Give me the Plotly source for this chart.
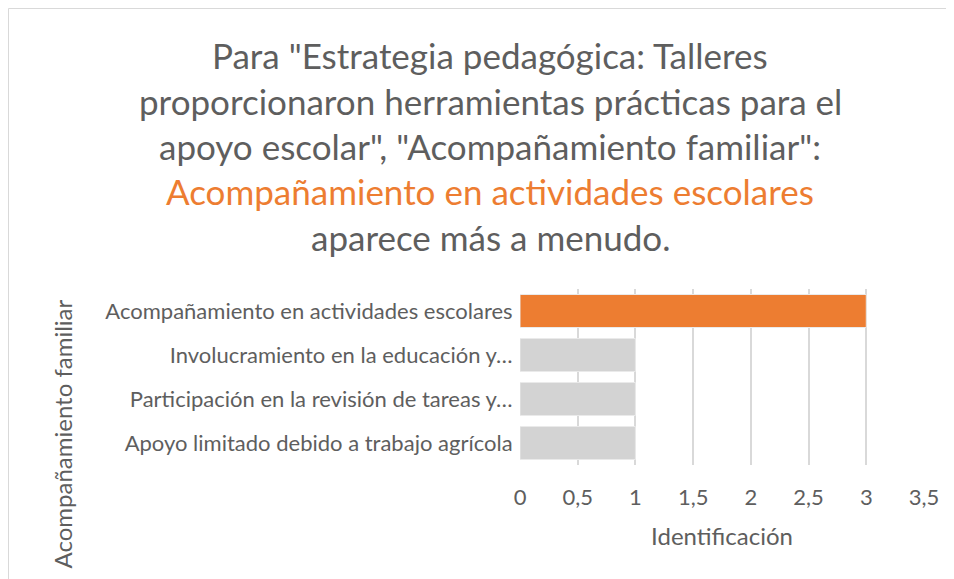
import plotly.graph_objects as go

categories = [
    "Acompañamiento en actividades escolares",
    "Involucramiento en la educación y…",
    "Participación en la revisión de tareas y…",
    "Apoyo limitado debido a trabajo agrícola",
]
values = [3, 1, 1, 1]
bar_colors = ["#ED7D31", "#D3D3D3", "#D3D3D3", "#D3D3D3"]
x_ticks = [0, 0.5, 1, 1.5, 2, 2.5, 3, 3.5]
x_tick_labels = ["0", "0,5", "1", "1,5", "2", "2,5", "3", "3,5"]

title_lines = [
    ('Para "Estrategia pedagógica: Talleres', "#595959"),
    ("proporcionaron herramientas prácticas para el", "#595959"),
    ('apoyo escolar", "Acompañamiento familiar":', "#595959"),
    ("Acompañamiento en actividades escolares", "#ED7D31"),
    ("aparece más a menudo.", "#595959"),
]

FONT = "Lato"
TXT = "#5E5E5E"
OFF = 8  # page body margin
W, H = 954 - OFF, 579 - OFF
L = 520 - OFF
T = 289 - OFF
R = W - (924 - OFF)
B = H - (465 - OFF)
pw = W - L - R
ph = H - T - B


def px_x(px):
    return (px - OFF - L) / pw


def px_y(py):
    return (H - B - (py - OFF)) / ph


fig = go.Figure(
    go.Bar(
        x=values,
        y=categories,
        orientation="h",
        marker=dict(color=bar_colors, line=dict(color="#EAEAEA", width=1)),
        width=0.75,
    )
)

annotations = []
line_y = [55, 101, 146, 191, 237]
for (txt, col), py in zip(title_lines, line_y):
    annotations.append(
        dict(
            text=txt, x=px_x(490), y=px_y(py), xref="paper", yref="paper",
            xanchor="center", yanchor="middle", showarrow=False,
            font=dict(family=FONT, size=35, color=col if col != "#595959" else TXT),
        )
    )
annotations.append(
    dict(
        text="Acompañamiento familiar", x=px_x(62), y=px_y(298), xref="paper", yref="paper",
        xanchor="center", yanchor="top", showarrow=False, textangle=-90,
        font=dict(family=FONT, size=24, color=TXT),
    )
)

shapes = [
    dict(type="line", xref="paper", yref="paper", x0=px_x(8.5), x1=px_x(970), y0=px_y(8.5), y1=px_y(8.5),
         line=dict(color="#D9D9D9", width=1)),
    dict(type="line", xref="paper", yref="paper", x0=px_x(8.5), x1=px_x(8.5), y0=px_y(8.5), y1=px_y(600),
         line=dict(color="#D9D9D9", width=1)),
]

fig.update_layout(
    width=W, height=H,
    margin=dict(l=L, r=R, t=T, b=B),
    paper_bgcolor="white", plot_bgcolor="white",
    showlegend=False,
    annotations=annotations,
    shapes=shapes,
    font=dict(family=FONT, color=TXT),
)
fig.update_xaxes(
    range=[0, 3.5], tickvals=x_ticks, ticktext=x_tick_labels,
    showgrid=True, gridcolor="#D9D9D9", gridwidth=1.5, zeroline=False,
    ticks="outside", ticklen=13, tickcolor="rgba(0,0,0,0)",
    tickfont=dict(family=FONT, size=22, color=TXT),
    title=dict(text="Identificación", font=dict(family=FONT, size=24, color=TXT), standoff=18),
)
fig.update_yaxes(
    autorange="reversed",
    showgrid=False, zeroline=False,
    tickfont=dict(family=FONT, size=22, color=TXT),
    ticks="outside", ticklen=2, tickcolor="rgba(0,0,0,0)",
)

fig.write_html("out.html")
